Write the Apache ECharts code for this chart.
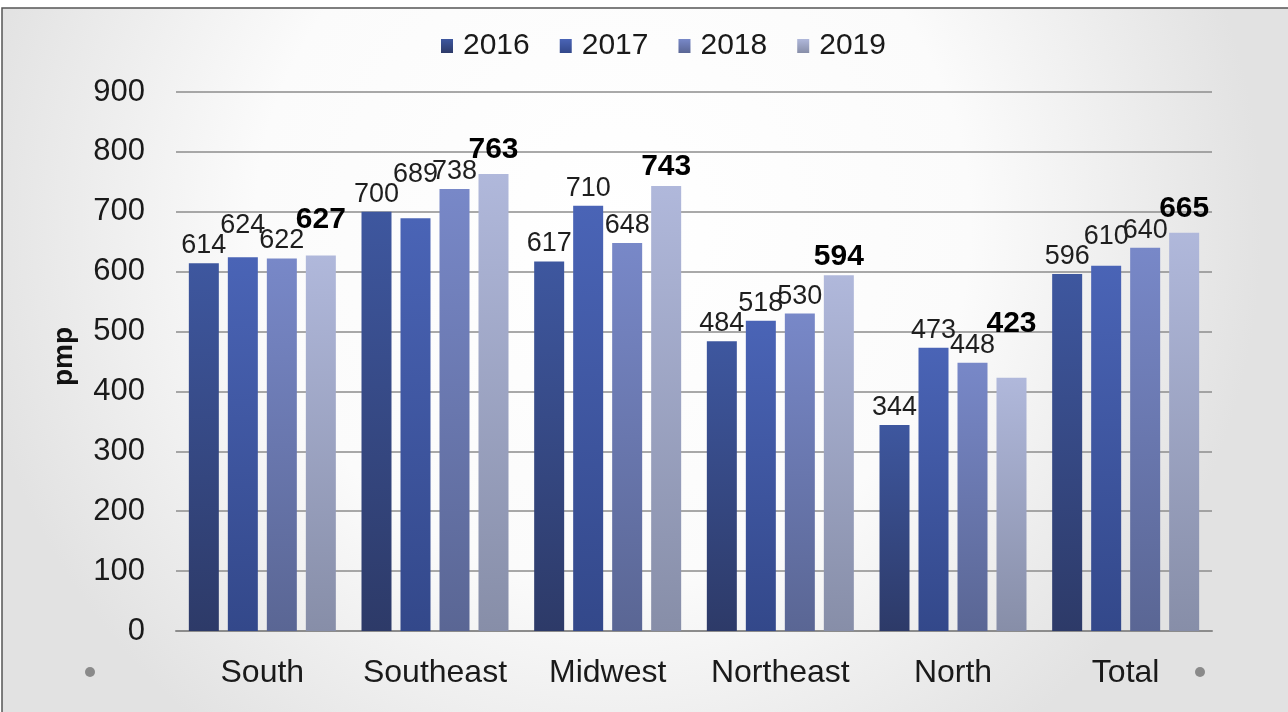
<!DOCTYPE html>
<html><head><meta charset="utf-8">
<script src="https://cdn.jsdelivr.net/npm/echarts@6/dist/echarts.min.js"></script>
<style>html,body{margin:0;padding:0;background:#fff}#c{width:1288px;height:712px}</style>
</head><body><div id="c"></div>
<script>
const categories = ['South', 'Southeast', 'Midwest', 'Northeast', 'North', 'Total'];
const years = ['2016', '2017', '2018', '2019'];
const v2016 = [614, 700, 617, 484, 344, 596];
const v2017 = [624, 689, 710, 518, 473, 610];
const v2018 = [622, 738, 648, 530, 448, 640];
const v2019 = [627, 763, 743, 594, 423, 665];
const yTicks = [0, 100, 200, 300, 400, 500, 600, 700, 800, 900];

const values = [v2016, v2017, v2018, v2019];
const colorStops = [
  ['#3e579f', '#2d3a68'],
  ['#4a64b6', '#33488a'],
  ['#7888c8', '#5a6694'],
  ['#b0b8db', '#878ea8']
];
const font = 'Liberation Sans, Arial, sans-serif';

const chart = echarts.init(document.getElementById('c'));

// lift a label when it would collide with the label of the bar just left of it
function liftLabel(params) {
  const s = params.seriesIndex;
  if (s % 2 === 0) return {};
  const d = params.dataIndex;
  let scale = 539 / 900;
  try {
    const a = chart.convertToPixel({yAxisIndex: 0}, 0);
    const b = chart.convertToPixel({yAxisIndex: 0}, 100);
    if (isFinite(a) && isFinite(b) && a !== b) scale = (a - b) / 100;
  } catch (e) {}
  const r = params.labelRect;
  const curBottom = r.y + r.height;
  const prevBottom = curBottom - (values[s - 1][d] - values[s][d]) * scale;
  const prevTop = prevBottom - 28;
  const limit = prevTop + 8;
  if (curBottom > limit) return {dy: limit - curBottom};
  return {};
}

const series = years.map((y, i) => ({
  name: y,
  type: 'bar',
  data: values[i],
  barWidth: 30,
  barGap: '30%',
  itemStyle: {
    color: new echarts.graphic.LinearGradient(0, 0, 0, 1, [
      {offset: 0, color: colorStops[i][0]},
      {offset: 1, color: colorStops[i][1]}
    ])
  },
  label: {
    show: true,
    position: 'top',
    distance: 4,
    fontFamily: font,
    fontSize: i === 3 ? 30 : 27,
    fontWeight: i === 3 ? 'bold' : 'normal',
    color: i === 3 ? '#000' : '#1e1e1e'
  },
  labelLayout: liftLabel
}));

chart.setOption({
  animation: false,
  backgroundColor: '#fff',
  graphic: [
    {type: 'rect', z: -100, shape: {x: 2, y: 8, width: 1300, height: 720},
      style: {
        fill: new echarts.graphic.RadialGradient(0.47, 0.3, 0.9, [
          {offset: 0, color: '#ffffff'},
          {offset: 0.55, color: '#fbfbfb'},
          {offset: 1, color: '#e2e2e2'}
        ]),
        stroke: '#555', lineWidth: 1.5
      }},
    {type: 'circle', z: 5, shape: {cx: 90, cy: 672, r: 5}, style: {fill: '#8a8a8a'}},
    {type: 'circle', z: 5, shape: {cx: 1200, cy: 672, r: 5}, style: {fill: '#8a8a8a'}}
  ],
  legend: {
    data: years,
    left: 436,
    top: 26,
    icon: 'rect',
    itemWidth: 12,
    itemHeight: 14,
    itemGap: 30,
    textStyle: {fontFamily: font, fontSize: 30, color: '#1a1a1a', padding: [0, 0, 0, 5]}
  },
  grid: {left: 176, right: 76, top: 92, bottom: 81, containLabel: false},
  xAxis: {
    type: 'category',
    data: categories,
    axisTick: {show: false},
    axisLine: {lineStyle: {color: '#8c8c8c', width: 2}},
    axisLabel: {interval: 0, fontFamily: font, fontSize: 32, color: '#1a1a1a', margin: 26}
  },
  yAxis: {
    type: 'value',
    min: 0, max: 900, interval: 100,
    name: 'pmp',
    nameLocation: 'middle',
    nameRotate: 90,
    nameGap: 98,
    nameTextStyle: {fontFamily: font, fontSize: 28, fontWeight: 'bold', color: '#111', padding: [0, 0, 0, 10]},
    axisLine: {show: false},
    axisTick: {show: false},
    splitLine: {lineStyle: {color: '#8c8c8c', width: 1.5}},
    axisLabel: {fontFamily: font, fontSize: 31, color: '#1a1a1a', margin: 31,
      formatter: v => yTicks.includes(v) ? String(v) : ''}
  },
  series: series
});
</script>
</body></html>
